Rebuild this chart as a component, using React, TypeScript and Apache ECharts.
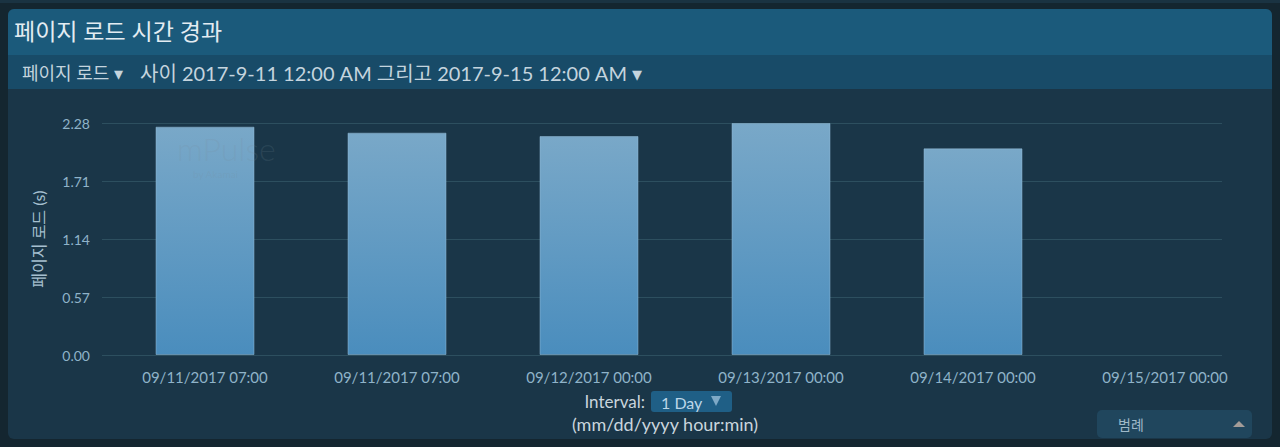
import React, { useEffect, useRef } from "react";
import * as echarts from "echarts";

const categories = [
  "09/11/2017 07:00",
  "09/11/2017 07:00",
  "09/12/2017 00:00",
  "09/13/2017 00:00",
  "09/14/2017 00:00",
  "09/15/2017 00:00",
];
const pageLoad = [2.244, 2.185, 2.152, 2.28, 2.031, null];
const yMin = 0;
const yMax = 2.28;
const yInterval = 0.57;

const FONT = "Lato, 'Noto Sans CJK KR', 'Noto Sans', sans-serif";

function txt(text: string, x: number, y: number, size: number, fill: string, align = "left", z = 6, weight = "normal") {
  return {
    type: "text",
    x,
    y,
    z,
    style: { text, fill, font: `${weight} ${size}px ${FONT}`, align, verticalAlign: "middle" },
  };
}

export default function App() {
  const ref = useRef<HTMLDivElement>(null);
  useEffect(() => {
    if (!ref.current) return;
    const chart = echarts.init(ref.current, null, { renderer: "svg" });
    chart.setOption({
      animation: false,
      backgroundColor: "#142630",
      textStyle: { fontFamily: FONT },
      graphic: [
        { type: "rect", shape: { x: 0, y: 0, width: 1280, height: 3 }, style: { fill: "#1a3342" }, z: 0 },
        { type: "rect", shape: { x: 8, y: 9, width: 1264, height: 430, r: 6 }, style: { fill: "#1a3648" }, z: 0 },
        { type: "rect", shape: { x: 8, y: 9, width: 1264, height: 46, r: [6, 6, 0, 0] }, style: { fill: "#1b5a7b" }, z: 0 },
        { type: "rect", shape: { x: 8, y: 55, width: 1264, height: 34 }, style: { fill: "#184b68" }, z: 0 },
        txt("페이지 로드 시간 경과", 14, 31, 23, "#e3ecf2"),
        txt("페이지 로드 ▾", 22, 73, 18, "#c4d4de"),
        txt("사이 2017-9-11 12:00 AM 그리고 2017-9-15 12:00 AM ▾", 140, 73, 20, "#c4d4de"),
        txt("mPulse", 177, 148, 32, "rgba(120,140,155,0.18)", "left", 20, "300"),
        txt("by Akamai", 193, 174, 10, "rgba(120,140,155,0.18)", "left", 20),
        txt("Interval:", 645, 401, 17, "#c9d5dd", "right"),
        { type: "rect", shape: { x: 651, y: 391, width: 81, height: 21, r: 3 }, style: { fill: "#1f5f86" }, z: 5 },
        txt("1 Day", 661, 402, 16, "#bcd6e8"),
        { type: "polygon", shape: { points: [[711, 396], [721, 396], [716, 406]] }, style: { fill: "#7ea9c6" }, z: 6 },
        txt("(mm/dd/yyyy hour:min)", 665, 424, 18, "#c9d5dd", "center"),
        { type: "rect", shape: { x: 1097, y: 410, width: 155, height: 28, r: 5 }, style: { fill: "#20465d" }, z: 5 },
        txt("범례", 1118, 424, 14, "#9fb8c8"),
        { type: "polygon", shape: { points: [[1233, 427], [1245, 427], [1239, 421]] }, style: { fill: "#a39c98" }, z: 6 },
      ],
      grid: [
        { left: 102, right: 58, top: 123, bottom: 92 },
        { left: 109, width: 1152, top: 123, bottom: 92 },
      ],
      xAxis: [
        { type: "category", gridIndex: 0, data: categories, show: false },
        {
          type: "category",
          gridIndex: 1,
          data: categories,
          axisLine: { show: false },
          axisTick: { show: false },
          axisLabel: { color: "#8fb3c9", fontSize: 15, margin: 14, fontFamily: FONT, interval: 0 },
        },
      ],
      yAxis: [
        {
          type: "value",
          gridIndex: 0,
          min: yMin,
          max: yMax,
          interval: yInterval,
          name: "페이지 로드 (s)",
          nameLocation: "middle",
          nameGap: 56,
          nameTextStyle: { color: "#a6c0d0", fontSize: 16, fontFamily: FONT },
          axisLine: { show: false },
          axisTick: { show: false },
          axisLabel: { color: "#8fb3c9", fontSize: 14, margin: 12, fontFamily: FONT, formatter: (v: number) => v.toFixed(2) },
          splitLine: { lineStyle: { color: "#2d4f5f", width: 1 } },
        },
        { type: "value", gridIndex: 1, min: yMin, max: yMax, interval: yInterval, show: false, splitLine: { show: false } },
      ],
      series: [
        {
          type: "bar",
          xAxisIndex: 1,
          yAxisIndex: 1,
          data: pageLoad,
          barWidth: 99,
          itemStyle: {
            color: new echarts.graphic.LinearGradient(0, 0, 0, 1, [
              { offset: 0, color: "#79a8c8" },
              { offset: 1, color: "#4a8dbd" },
            ]),
            borderColor: "rgba(150,190,215,0.5)",
            borderWidth: 1,
          },
          z: 3,
        },
      ],
    });
    return () => chart.dispose();
  }, []);
  return <div ref={ref} style={{ position: "fixed", left: 0, top: 0, width: 1280, height: 447 }} />;
}
